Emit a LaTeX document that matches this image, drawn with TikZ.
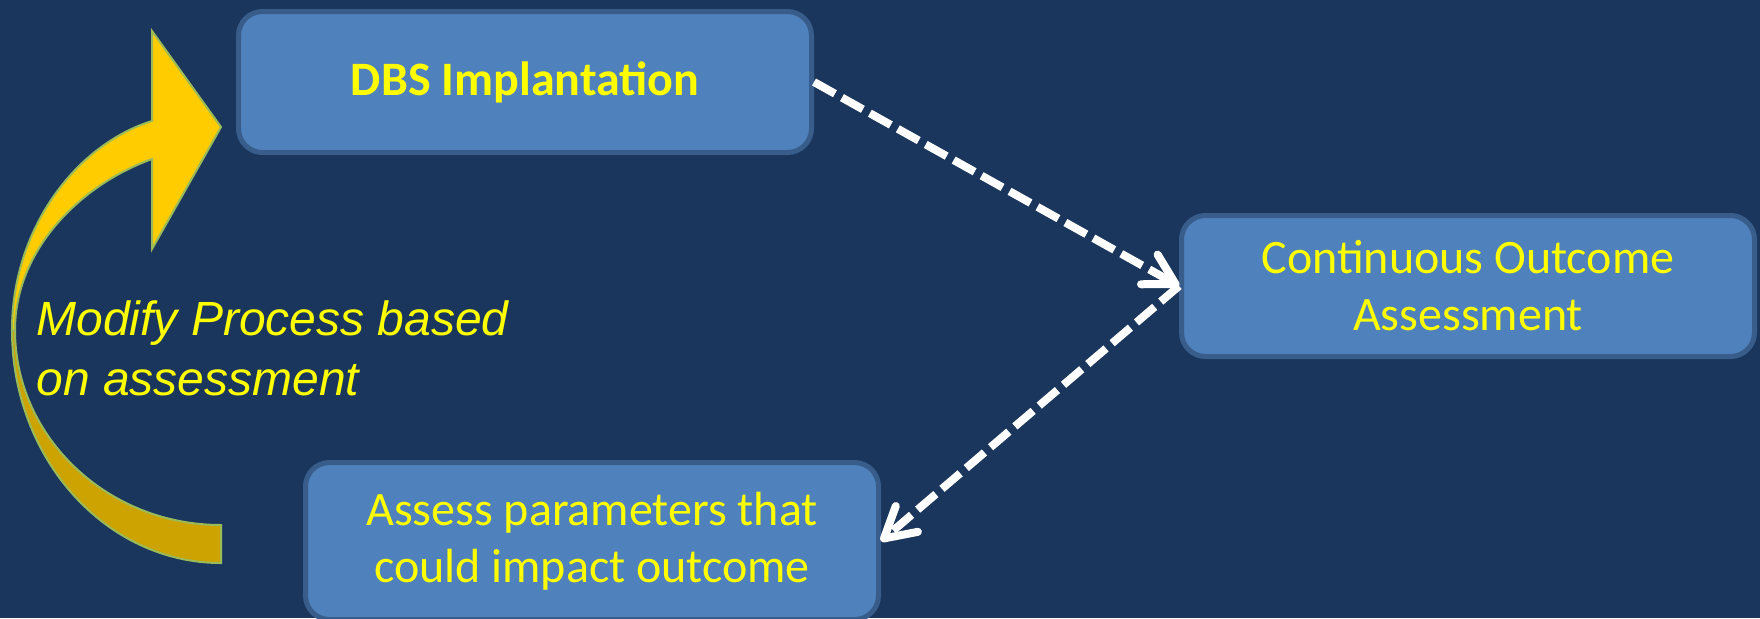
\documentclass[tikz,border=0pt]{standalone}
\usepackage{fontspec}
\setmainfont{Carlito}
\newfontfamily\notefont{Liberation Sans}
\usetikzlibrary{arrows.meta,positioning}

\definecolor{slide}{RGB}{26,54,93}
\definecolor{boxfill}{RGB}{79,129,189}
\definecolor{boxline}{RGB}{56,93,138}
\definecolor{txt}{RGB}{255,255,0}
\definecolor{gold}{RGB}{255,204,0}
\definecolor{darkgold}{RGB}{204,163,0}
\definecolor{goldline}{RGB}{155,187,89}

\begin{document}
\begin{tikzpicture}[x=0.5pt,y=-0.5pt,font=\fontsize{24}{28.5}\selectfont,
  >={Straight Barb[length=15pt,width=17pt,round]},
  box/.style={draw=boxline,line width=2.5pt,fill=boxfill,rounded corners=12pt,text=txt,
    align=center,inner sep=0pt,minimum width=286.5pt,minimum height=70.5pt},
  flow/.style={->,draw=white,line width=4pt,dash pattern=on 12pt off 4pt}]
\useasboundingbox[fill=slide] (0,0) rectangle (1760,618);

% the three steps
\node[box] (dbs) at (525,82) {\bfseries DBS Implantation};
\node[box] (cont) at (1468,286) {Continuous Outcome\\Assessment};
\node[box,minimum height=78.5pt] (assess) at (592,541) {Assess parameters that\\could impact outcome};

\draw[flow] (dbs.east) -- (cont.west);
\draw[flow] (cont.west) -- (assess.east);

% curved return arrow, lower half darker
\filldraw[fill=darkgold,draw=goldline,line width=1pt]
  (12,330) .. controls (12,459) and (106,563) .. (221,563) -- (221,525)
  .. controls (108,525) and (15,438) .. (15,330) -- cycle;
\filldraw[fill=gold,draw=goldline,line width=1pt]
  (15,330) .. controls (15,250) and (80,185) .. (152,159) -- (152,249) -- (221,127)
  -- (152,31) -- (152,121) .. controls (75,145) and (12,230) .. (12,330) -- cycle;

\node[text=txt,font=\notefont\itshape\fontsize{24}{30}\selectfont,align=left,
  inner sep=0pt,anchor=north west] (note) at (36,300) {Modify Process based\\on assessment};
\end{tikzpicture}
\end{document}
